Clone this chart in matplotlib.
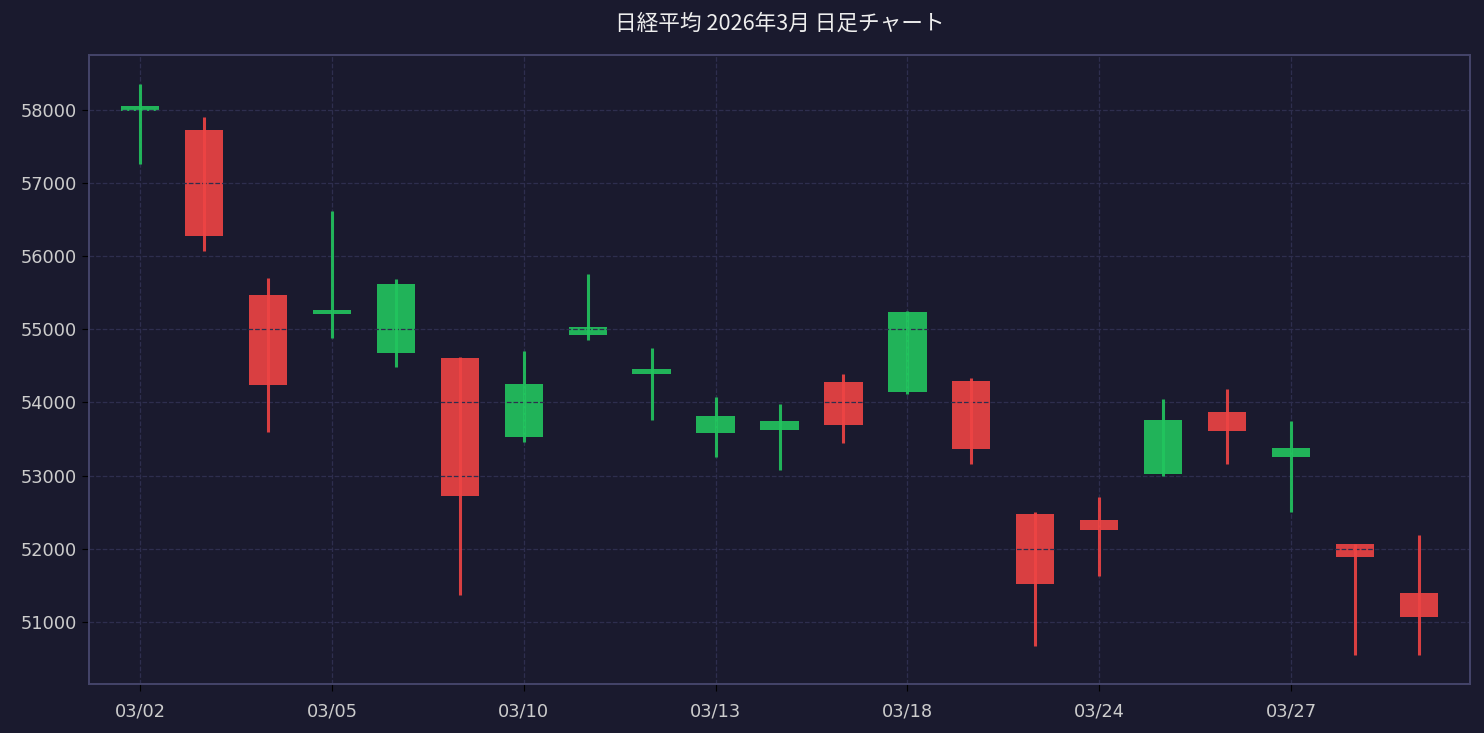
import numpy as np
import matplotlib
matplotlib.use("Agg")
import matplotlib.pyplot as plt

dates = ["03/02", "03/03", "03/04", "03/05", "03/06", "03/09", "03/10", "03/11",
         "03/12", "03/13", "03/16", "03/17", "03/18", "03/19", "03/23", "03/24",
         "03/25", "03/26", "03/27", "03/30", "03/31"]
opens = [57985, 57730, 55465, 55205, 54670, 54605, 53525, 54920, 54390, 53585, 53625,
         54275, 54145, 54290, 52470, 52390, 53020, 53865, 53250, 52060, 51390]
highs = [58360, 57905, 55705, 56620, 55690, 54615, 54700, 55750, 54740, 54070, 53985,
         54395, 55245, 54340, 52495, 52710, 54040, 54190, 53740, 52070, 52180]
lows = [57260, 56070, 53590, 54880, 54485, 51365, 53455, 54855, 53760, 53255, 53080,
        53450, 54115, 53160, 50670, 51625, 52995, 53160, 52500, 50545, 50540]
closes = [58060, 56275, 54235, 55270, 55615, 52720, 54245, 55025, 54450, 53810, 53745,
          53695, 55230, 53365, 51510, 52250, 53760, 53605, 53375, 51880, 51060]

bg = "#1a1a2e"
up_col = "#22c55e"
down_col = "#ef4444"

x = np.arange(len(dates))
o = np.array(opens)
c = np.array(closes)
cols = [up_col if cc >= oo else down_col for oo, cc in zip(o, c)]

fig = plt.figure(figsize=(14.84, 7.33), dpi=100, facecolor=bg)
ax = fig.add_axes([89/1484, 1-684/733, (1470-89)/1484, (684-55)/733])
ax.set_facecolor(bg)

ax.bar(x, np.abs(c - o), bottom=np.minimum(o, c), width=0.6, color=cols, alpha=0.9)
ax.vlines(x, lows, highs, colors=cols, linewidth=2.2, alpha=0.9)

# y range: wick extremes plus 5 %
span = max(highs) - min(lows)
ax.set_ylim(min(lows) - 0.05 * span, max(highs) + 0.05 * span)
ax.set_xlim(-0.8, 20.8)
ax.set_xticks(x[::3])
ax.set_xticklabels([dates[i] for i in x[::3]])
ax.set_yticks(np.arange(51000, 58001, 1000))
ax.set_yticklabels([str(v) for v in range(51000, 58001, 1000)])

ax.grid(True, color="#2e2e4e", linestyle="--", linewidth=0.9)
for s in ax.spines.values():
    s.set_color("#45456a")
    s.set_linewidth(1.4)
ax.tick_params(colors="black", labelcolor="#cccccc", labelsize=12.8, length=5)
ax.tick_params(axis="x", pad=8)

ax.set_title("日経平均 2026年3月 日足チャート", color="#eeeeee", fontsize=15.6,
             family=["Noto Sans CJK JP", "DejaVu Sans"], pad=18)

fig.savefig("out.png", dpi=100, facecolor=bg)
